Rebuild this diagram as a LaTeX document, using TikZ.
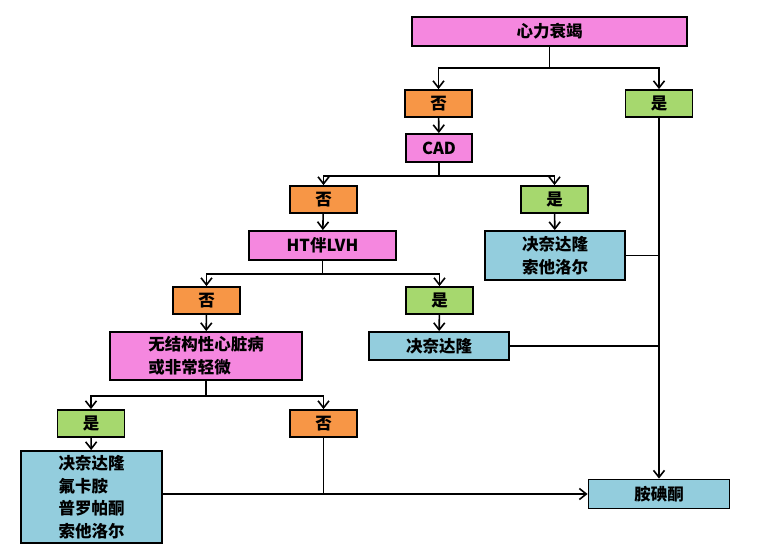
\documentclass[tikz,border=0pt]{standalone}
\usepackage{fontspec}
\setmainfont{Noto Sans CJK SC}
\usetikzlibrary{arrows.meta,positioning,calc}
\definecolor{q1}{HTML}{F587DF}
\definecolor{q2}{HTML}{F79646}
\definecolor{q3}{HTML}{A6D86E}
\definecolor{q4}{HTML}{93CDDD}

\begin{document}
\begin{tikzpicture}
[x=1pt,y=-1pt,
box/.style={draw,line width=1.8pt,inner sep=0pt,align=left,
  font=\bfseries\fontsize{16.5}{22.5}\selectfont},
ask/.style={box,fill=q1},
nobox/.style={box,fill=q2,minimum width=67pt,minimum height=27pt},
yesbox/.style={box,fill=q3,minimum width=67pt,minimum height=27pt},
drug/.style={box,fill=q4},
conn/.style={line width=1.6pt},
arr/.style={conn,-{Straight Barb[length=7pt,width=11pt,line width=1.6pt]}}]
%%%%%%%%%%
\useasboundingbox (0,0) rectangle (759,554);

\newcommand{\fork}[4]{
\draw[arr] (#1.south) -- ++(0,#4) -| (#2.north);
\draw[arr] (#1.south) -- ++(0,#4) -| (#3.north);
}
%%%%%%%%%%

%% questions
\node[ask,minimum width=275pt,minimum height=29pt] (hf) at (549.5,31.5) {心力衰竭};
\node[ask,minimum width=66pt,minimum height=28pt] (cad) at (439,148) {CAD};
\node[ask,minimum width=147pt,minimum height=29pt] (ht) at (322.5,245.5) {HT伴LVH};
\node[ask,minimum width=192pt,minimum height=48pt] (nsh) at (206,356) {无结构性心脏病\\或非常轻微};

%% answers
\node[nobox] (no1) at (438.5,103.5) {否};
\node[yesbox] (yes1) at (659,103.5) {是};
\node[nobox] (no2) at (323.5,199.5) {否};
\node[yesbox] (yes2) at (554.5,199.5) {是};
\node[nobox] (no3) at (206.5,300.5) {否};
\node[yesbox] (yes3) at (439.5,300.5) {是};
\node[yesbox] (yes4) at (91,423.5) {是};
\node[nobox] (no4) at (323.5,423.5) {否};

%% drugs
\node[drug,minimum width=140pt,minimum height=49pt] (dro1) at (555,255.5) {决奈达隆\\索他洛尔};
\node[drug,minimum width=140pt,minimum height=28pt] (dro2) at (439,346) {决奈达隆};
\node[drug,minimum width=141pt,minimum height=92pt] (drugs) at (91.5,497) {决奈达隆\\氟卡胺\\普罗帕酮\\索他洛尔};
\node[drug,minimum width=141pt,minimum height=29pt] (amio) at (659,494) {胺碘酮};

%% tree
\fork{hf}{no1}{yes1}{21}
\draw[arr] (no1) -- (cad);
\fork{cad}{no2}{yes2}{13}
\draw[arr] (no2) -- (ht);
\draw[arr] (yes2) -- (dro1);
\fork{ht}{no3}{yes3}{13}
\draw[arr] (no3) -- (nsh);
\draw[arr] (yes3) -- (dro2);
\fork{nsh}{yes4}{no4}{15}
\draw[arr] (yes4) -- (drugs);

%% amiodarone
\draw[arr] (yes1) -- (amio);
\draw[conn] (dro1.east) -- (dro1.east -| amio.north);
\draw[conn] (dro2.east) -- (dro2.east -| amio.north);
\draw[arr] (drugs.east |- amio.west) -- (amio.west);
\draw[conn] (no4.south) -- (no4.south |- amio.west);
\end{tikzpicture}
\end{document}
